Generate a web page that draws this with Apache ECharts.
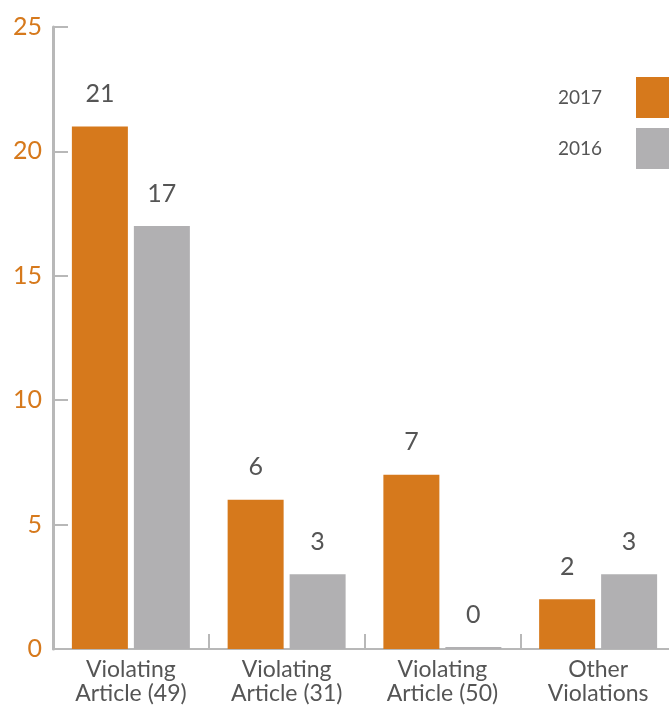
<!DOCTYPE html>
<html>
<head>
<meta charset="utf-8">
<script src="https://cdn.jsdelivr.net/npm/echarts@6/dist/echarts.min.js"></script>
<style>
  html, body { margin: 0; padding: 0; background: #fff; }
  #chart { width: 669px; height: 708px; }
</style>
</head>
<body>
<div id="chart"></div>
<script>
const categories = ['Violating\nArticle (49)', 'Violating\nArticle (31)', 'Violating\nArticle (50)', 'Other\nViolations']
const values2017 = [21, 6, 7, 2]
const values2016 = [17, 3, 0, 3]
const yTicks = [0, 5, 10, 15, 20, 25]

const ORANGE = '#d6791c'
const GREY = '#b1b0b2'
const AXIS = '#b8b8b8'
const TEXT = '#555555'
const FONT = 'Lato'

const chart = echarts.init(document.getElementById('chart'))

const labelStyle = {
  show: true,
  position: 'top',
  distance: 20,
  color: TEXT,
  fontSize: 25,
  fontFamily: FONT
}

chart.setOption({
  animation: false,
  textStyle: { fontFamily: FONT },
  // axis runs a little past the right edge in the original
  grid: { left: 53, right: -7, top: 27, bottom: 59, containLabel: false, outerBoundsMode: 'none' },
  legend: {
    orient: 'vertical',
    right: -12,
    top: 77,
    padding: 0,
    align: 'right',
    itemWidth: 45,
    itemHeight: 41,
    itemGap: 10,
    icon: 'rect',
    selectedMode: false,
    textStyle: { color: TEXT, fontSize: 19, fontFamily: FONT, padding: [0, 29, 0, 0] },
    data: ['2017', '2016']
  },
  xAxis: {
    type: 'category',
    data: categories,
    axisLine: { lineStyle: { color: AXIS, width: 2 } },
    axisTick: { show: true, inside: true, length: 15, lineStyle: { color: AXIS, width: 2 } },
    axisLabel: { color: TEXT, fontSize: 23, lineHeight: 24, margin: 9, fontFamily: FONT }
  },
  yAxis: {
    type: 'value',
    min: yTicks[0],
    max: yTicks[yTicks.length - 1],
    interval: 5,
    splitLine: { show: false },
    axisLine: { show: true, lineStyle: { color: AXIS, width: 3 } },
    axisTick: { show: true, inside: true, length: 15, lineStyle: { color: AXIS, width: 2 } },
    axisLabel: { color: ORANGE, fontSize: 25, margin: 11, fontFamily: FONT }
  },
  series: [
    {
      name: '2017',
      type: 'bar',
      data: values2017,
      barWidth: 56,
      barGap: '10.7%',
      itemStyle: { color: ORANGE },
      label: labelStyle
    },
    {
      name: '2016',
      type: 'bar',
      data: values2016,
      barWidth: 56,
      barGap: '10.7%',
      barMinHeight: 2,
      itemStyle: { color: GREY },
      label: labelStyle
    }
  ]
})
</script>
</body>
</html>
